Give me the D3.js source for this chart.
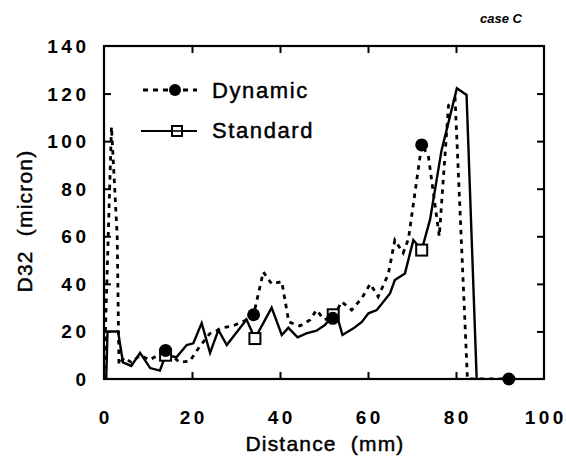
<!DOCTYPE html>
<html>
<head>
<meta charset="utf-8">
<script src="https://cdn.jsdelivr.net/npm/d3@7/dist/d3.min.js"></script>
<style>
  html, body { margin: 0; padding: 0; background: #fff; }
  svg { display: block; }
  text { font-family: "Liberation Sans", Arial, Helvetica, sans-serif; fill: #000; }
  .medium { stroke: #000; stroke-width: 0.45; }
</style>
</head>
<body>
<svg id="chart" width="566" height="458"></svg>
<script>
// Distance along the spray (mm) and Sauter mean diameter D32 (micron)
const dynamicX = [0, 1.7, 3.0, 3.4, 4.6, 6.2, 8.2, 10.4, 12.2, 14, 17.2, 19.5, 21.5, 24, 27, 29.5, 32, 34,
  36.2, 38.1, 40.4, 42, 44.5, 46.8, 48.3, 50, 52, 54, 56.3, 58.6, 60.5, 62.3, 64.6, 66.1, 68, 69.2,
  72.2, 73.7, 76.2, 78.3, 79.8, 82.6, 92];
const dynamicY = [0, 106, 60, 6, 9, 7, 10, 8, 10, 12, 7, 7.5, 13, 19, 21.5, 22.5, 24.5, 27,
  45, 40, 41, 24, 22.3, 24.8, 29, 25, 25.5, 32.5, 29, 34, 40, 34.6, 44, 58.4, 53, 59,
  98.4, 94, 60, 115, 117.5, 0, 0];
const dynamicMarks = [14, 34, 52, 72.2, 92];

const standardX = [0, 0.5, 0.8, 3.2, 4.3, 6.2, 8.2, 10.5, 12.7, 14, 16.5, 18.8, 20.3, 22.2, 24.1, 26, 27.9,
  32.4, 34.3, 38.1, 40.4, 41.9, 44, 46, 48.3, 50.2, 52.1, 53.2, 54.2, 56.7, 58.6, 60.1, 62, 65,
  66.1, 68.4, 70.3, 72.2, 74.1, 76.7, 80.2, 82.4, 84.7];
const standardY = [0, 0, 20, 20, 7, 5.5, 11, 4.6, 3.5, 10, 9.2, 14.3, 15, 23.5, 11, 20.6, 14.3,
  25, 17, 30, 18.5, 21.5, 17.5, 19.2, 20.3, 22.7, 27, 25, 18.5, 21.3, 24, 27.6, 29, 36,
  41.6, 44.4, 58.4, 54.2, 67, 96, 122.2, 119.4, 0];
const standardMarks = [14, 34.3, 52.1, 72.2];

const xTicks = [0, 20, 40, 60, 80, 100];
const yTicks = [0, 20, 40, 60, 80, 100, 120, 140];
const seriesNames = ["Dynamic", "Standard"];

const svg = d3.select("#chart");
const plot = { left: 104, right: 544, top: 46, bottom: 379 };

const x = d3.scaleLinear().domain([0, 100]).range([plot.left, plot.right]);
const y = d3.scaleLinear().domain([0, 140]).range([plot.bottom, plot.top]);

const dyn = dynamicX.map((v, i) => [v, dynamicY[i]]);
const std = standardX.map((v, i) => [v, standardY[i]]);
const valueAt = (pts, xv) => {
  const p = pts.find(d => Math.abs(d[0] - xv) < 1e-6);
  return p ? p[1] : null;
};

const line = d3.line().x(d => x(d[0])).y(d => y(d[1]));

// inward tick marks on all four sides
const tickLen = 7;
const bottomAxis = svg.append("g").attr("transform", `translate(0,${plot.bottom})`)
  .call(d3.axisBottom(x).tickValues(xTicks.slice(1, -1)).tickSize(-tickLen).tickFormat(""));
const topAxis = svg.append("g").attr("transform", `translate(0,${plot.top})`)
  .call(d3.axisTop(x).tickValues(xTicks.slice(1, -1)).tickSize(-tickLen).tickFormat(""));
const leftAxis = svg.append("g").attr("transform", `translate(${plot.left},0)`)
  .call(d3.axisLeft(y).tickValues(yTicks.slice(1, -1)).tickSize(-tickLen).tickFormat(""));
const rightAxis = svg.append("g").attr("transform", `translate(${plot.right},0)`)
  .call(d3.axisRight(y).tickValues(yTicks.slice(1, -1)).tickSize(-tickLen).tickFormat(""));
[bottomAxis, topAxis, leftAxis, rightAxis].forEach(g => {
  g.select(".domain").remove();
  g.selectAll("line").attr("stroke", "#000").attr("stroke-width", 2);
});

// tick labels (digits spaced out, letter-spacing applied between glyphs)
const ls = 3.5;
const spaced = (sel, v) => {
  const s = String(v);
  sel.selectAll("tspan").data(s.split("")).join("tspan")
    .attr("dx", (c, i) => i === 0 ? 0 : ls)
    .text(c => c);
};

svg.append("g").selectAll("text").data(xTicks).join("text")
  .attr("x", d => x(d))
  .attr("y", 424)
  .attr("text-anchor", "middle")
  .attr("font-size", 19).attr("font-weight", "bold")
  .each(function (d) { spaced(d3.select(this), d); });

svg.append("g").selectAll("text").data(yTicks).join("text")
  .attr("x", 86)
  .attr("y", d => y(d) + 7)
  .attr("text-anchor", "end")
  .attr("font-size", 19).attr("font-weight", "bold")
  .each(function (d) { spaced(d3.select(this), d); });

// axis titles
svg.append("text")
  .attr("class", "medium")
  .attr("x", 325).attr("y", 451)
  .attr("text-anchor", "middle")
  .attr("font-size", 21)
  .attr("letter-spacing", 1.2)
  .attr("xml:space", "preserve")
  .text("Distance  (mm)");

svg.append("text")
  .attr("class", "medium")
  .attr("transform", "translate(32,221) rotate(-90)")
  .attr("text-anchor", "middle")
  .attr("font-size", 21)
  .attr("letter-spacing", 1.2)
  .attr("xml:space", "preserve")
  .text("D32  (micron)");

svg.append("text")
  .attr("x", 522).attr("y", 23)
  .attr("text-anchor", "end")
  .attr("font-size", 13).attr("font-weight", "bold")
  .attr("font-style", "italic")
  .text("case C");

// clip series to the frame
svg.append("clipPath").attr("id", "frame")
  .append("rect").attr("x", plot.left).attr("y", plot.top - 10)
  .attr("width", plot.right - plot.left).attr("height", plot.bottom - plot.top + 10);

const series = svg.append("g").attr("clip-path", "url(#frame)");

series.append("path").datum(std)
  .attr("d", line).attr("fill", "none")
  .attr("stroke", "#000").attr("stroke-width", 2.4)
  .attr("stroke-linejoin", "miter");

series.append("path").datum(dyn)
  .attr("d", line).attr("fill", "none")
  .attr("stroke", "#000").attr("stroke-width", 2.8)
  .attr("stroke-dasharray", "4.5,5");

// frame
svg.append("rect")
  .attr("x", plot.left).attr("y", plot.top)
  .attr("width", plot.right - plot.left).attr("height", plot.bottom - plot.top)
  .attr("fill", "none").attr("stroke", "#000").attr("stroke-width", 2.2);

// markers
const sq = 11;
svg.append("g").selectAll("rect").data(standardMarks).join("rect")
  .attr("x", d => x(d) - sq / 2)
  .attr("y", d => y(valueAt(std, d)) - sq / 2)
  .attr("width", sq).attr("height", sq)
  .attr("fill", "#fff").attr("stroke", "#000").attr("stroke-width", 2);

svg.append("g").selectAll("circle").data(dynamicMarks).join("circle")
  .attr("cx", d => x(d))
  .attr("cy", d => y(valueAt(dyn, d)))
  .attr("r", 6.5)
  .attr("fill", "#000");

// legend
const legend = svg.append("g");
legend.append("line")
  .attr("x1", 143).attr("x2", 197).attr("y1", 90).attr("y2", 90)
  .attr("stroke", "#000").attr("stroke-width", 2.8).attr("stroke-dasharray", "5,5");
legend.append("circle").attr("cx", 175).attr("cy", 90).attr("r", 6).attr("fill", "#000");
legend.append("line")
  .attr("x1", 141).attr("x2", 197).attr("y1", 131).attr("y2", 131)
  .attr("stroke", "#000").attr("stroke-width", 2.2);
legend.append("rect").attr("x", 172).attr("y", 126).attr("width", 10).attr("height", 10)
  .attr("fill", "#fff").attr("stroke", "#000").attr("stroke-width", 2);
legend.append("line")
  .attr("x1", 172).attr("x2", 182).attr("y1", 131).attr("y2", 131)
  .attr("stroke", "#000").attr("stroke-width", 1.6);

legend.selectAll("text.name").data(seriesNames).join("text")
  .attr("class", "name medium")
  .attr("x", 212)
  .attr("y", (d, i) => 98 + i * 40)
  .attr("font-size", 22)
  .attr("letter-spacing", 1.6)
  .text(d => d);
</script>
</body>
</html>
